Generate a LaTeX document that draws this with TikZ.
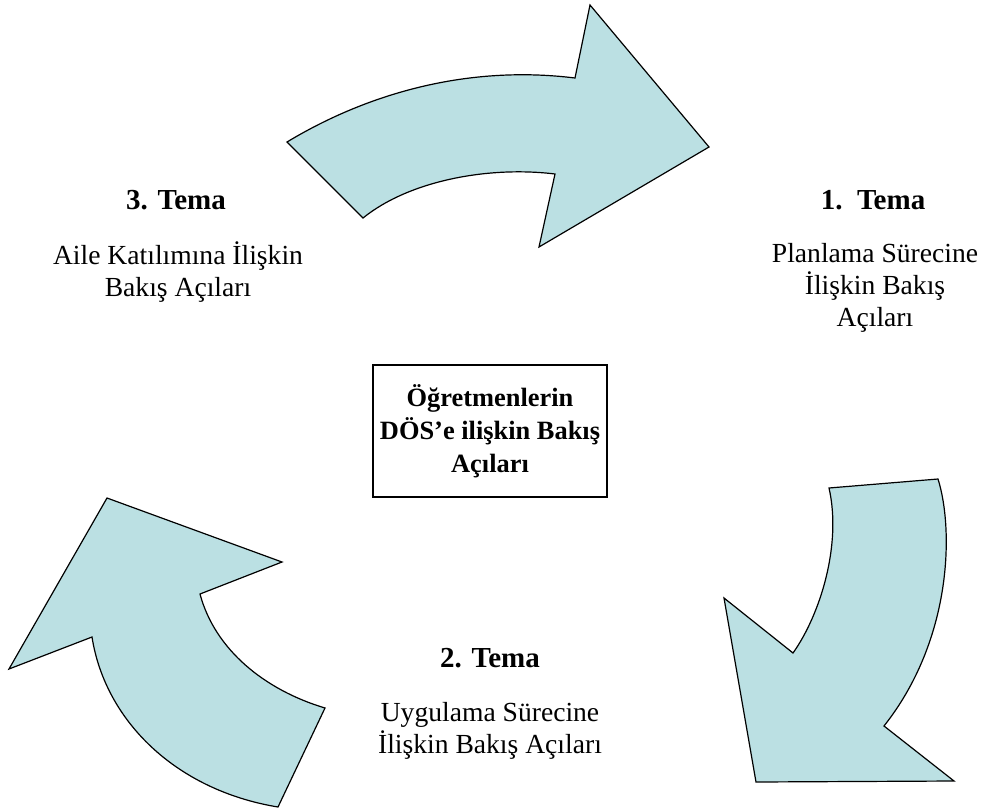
\documentclass[tikz,border=0pt]{standalone}
\usepackage{fontspec}
\setmainfont{Liberation Serif}
\usepackage{tikz}
\definecolor{color_theme_arrow}{HTML}{BBE0E3}
\tikzset{
    bendarrow/.style={draw=black, line width=0.6pt, fill=color_theme_arrow, line join=miter},
    themehead/.style={inner sep=0pt, font=\fontsize{14.5}{16}\selectfont\bfseries},
    themetext/.style={inner sep=0pt, align=center, font=\fontsize{13.8}{16}\selectfont},
    centerbox/.style={draw=black, line width=0.6pt, align=center, minimum width=117pt, minimum height=66pt, inner sep=1pt, font=\fontsize{13.2}{16.5}\selectfont\bfseries}
}

\begin{document}
\begin{tikzpicture}[x=0.5pt, y=-0.5pt]
            \useasboundingbox (0,0) rectangle (985,809);
            % arrow at the top
            \draw[bendarrow] (287,142) .. controls (370,92) and (470,65) .. (575,78)
                -- (590,5) -- (709,147) -- (539,247) -- (555,174)
                .. controls (490,166) and (410,180) .. (363,218) -- cycle;
            % arrow on the right
            \draw[bendarrow] (829,488) -- (938,479) .. controls (954,530) and (952,640) .. (884,726)
                -- (954,781) -- (756,782) -- (724,598) -- (793,653)
                .. controls (820,615) and (842,545) .. (829,488) -- cycle;
            % arrow on the left
            \draw[bendarrow] (107,498) -- (282,562) -- (200,594)
                .. controls (215,650) and (265,690) .. (325,708) -- (278,807)
                .. controls (175,790) and (105,720) .. (92,637) -- (9,669) -- cycle;
            % themes
            \node[themehead] (tema3) at (176,200) {3. Tema};
            \node[themetext] (tema3text) at (178,272) {Aile Katılımına İlişkin\\Bakış Açıları};
            \node[themehead] (tema1) at (873,200) {1.~~Tema};
            \node[themetext] (tema1text) at (875,288) {Planlama Sürecine\\İlişkin Bakış\\Açıları};
            \node[themehead] (tema2) at (490,658) {2. Tema};
            \node[themetext] (tema2text) at (490,731) {Uygulama Sürecine\\İlişkin Bakış Açıları};
            % centre box
            \node[centerbox] (dos) at (490,431) {Öğretmenlerin\\DÖS’e ilişkin Bakış\\Açıları};
\end{tikzpicture}
\end{document}
